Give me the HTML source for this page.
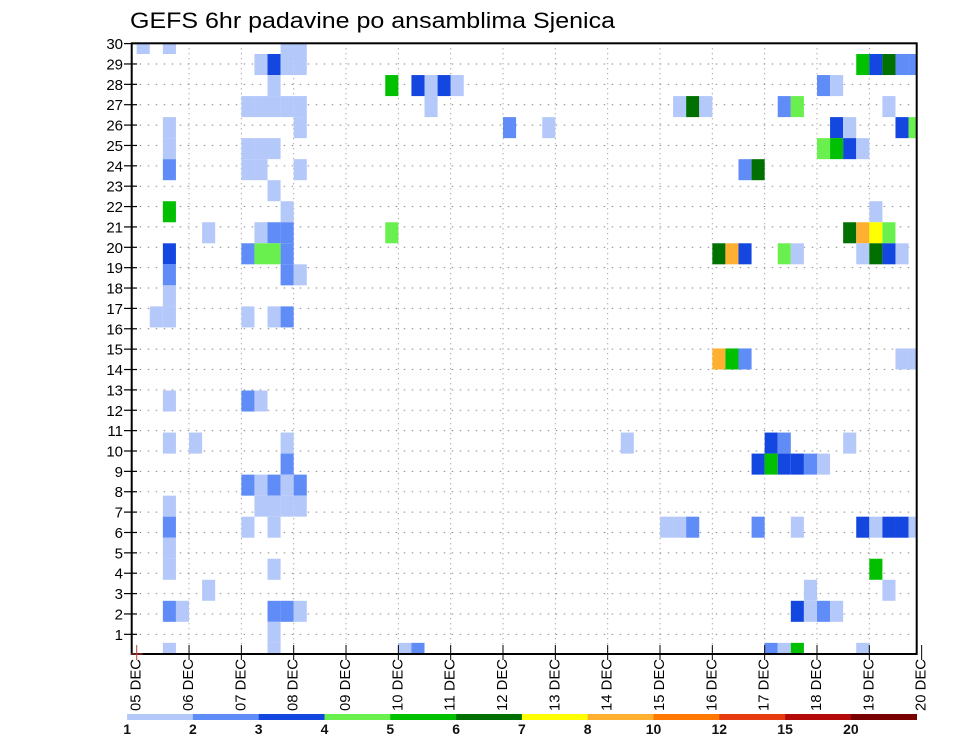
<!DOCTYPE html>
<html><head><meta charset="utf-8"><title>GEFS 6hr padavine po ansamblima Sjenica</title>
<style>
html,body{margin:0;padding:0;background:#fff;}
svg{display:block;font-family:"Liberation Sans",sans-serif;}
</style></head>
<body>
<svg id="chart" width="960" height="742" viewBox="0 0 960 742" xmlns="http://www.w3.org/2000/svg">
<rect x="0" y="0" width="960" height="742" fill="#fff"/>
<text x="130" y="28" font-size="22" textLength="485" lengthAdjust="spacingAndGlyphs" fill="#000">GEFS 6hr padavine po ansamblima Sjenica</text>
<g id="grid"></g>
<g id="cells"></g>
<g id="axes"></g>
<g id="colorbar"></g>
</svg>
<script>
// ---- data ----
const dayLabels = ["05 DEC","06 DEC","07 DEC","08 DEC","09 DEC","10 DEC","11 DEC","12 DEC","13 DEC","14 DEC","15 DEC","16 DEC","17 DEC","18 DEC","19 DEC","20 DEC"];
const memberTicks = [1,2,3,4,5,6,7,8,9,10,11,12,13,14,15,16,17,18,19,20,21,22,23,24,25,26,27,28,29,30];
const levelBounds = [1,2,3,4,5,6,7,8,10,12,15,20];
const levelColors = ["#b4c8fa","#5f8cf6","#1446e0","#6af04e","#00c000","#007000","#ffff00","#ffb030","#ff7800","#e63a10","#b40a0a","#780000"];
// cells: row counted from the top member (0..29), 6-hourly step index (0..59), precipitation (mm)
const cellRow = [
0,0,0,0, 1,1,1,1, 2, 3,3,3,3,3, 4,4, 5,5,5,5, 6,6,6,6, 7, 8,8, 9,9,9,9, 10,10,10,10,10, 11,11,11, 12, 13,13,13,13,13,
17,17,17, 19,19,19, 20, 21,21,21,21,21, 22,22,22,22,22, 23,23,23, 24, 25,25, 26, 27,27,27,27,27, 28, 29,29,
2,2,2,2,2, 3, 4,4, 9, 19, 23,23,23,
1,1,1,1,1, 2,2, 3,3,3,3,3,3, 4,4,4,4, 5,5,5,5, 6,6,
8, 9,9,9,9, 10,10,10,10,10,10,10,10,10, 15,15,15,15,15,
19,19,19, 20,20,20,20,20,20, 23,23,23,23,23,23,23,
25, 26,26, 27,27,27,27, 29,29,29,29, 29,29];
const cellStep = [
0,2,11,12, 9,10,11,12, 10, 8,9,10,11,12, 2,12, 2,8,9,10, 2,8,9,12, 10, 2,11, 5,9,10,11, 2,8,9,10,11, 2,11,12, 2, 1,2,8,10,11,
2,8,9, 2,4,11, 11, 8,9,10,11,12, 2,9,10,11,12, 2,8,10, 2, 2,10, 5, 2,3,10,11,12, 10, 2,10,
19,21,22,23,24, 22, 28,31, 19, 37, 40,41,42,
55,56,57,58,59, 52,53, 41,42,43,49,50,57, 53,54,58,59, 52,53,54,55, 46,47,
56, 54,55,56,57, 44,45,46,49,50,55,56,57,58, 44,45,46,58,59,
48,49,54, 47,48,49,50,51,52, 47,50,55,56,57,58,59,
56, 51,57, 50,51,52,53, 48,49,50,55, 20,21];
const cellPrecip = [
1.5,1.5,1.5,1.5, 1.5,3.5,1.5,1.5, 1.5, 1.5,1.5,1.5,1.5,1.5, 1.5,1.5, 1.5,1.5,1.5,1.5, 2.5,1.5,1.5,1.5, 1.5, 5.5,1.5, 1.5,1.5,2.5,2.5, 3.5,2.5,4.5,4.5,2.5, 2.5,2.5,1.5, 1.5, 1.5,1.5,1.5,1.5,2.5,
1.5,2.5,1.5, 1.5,1.5,1.5, 2.5, 2.5,1.5,2.5,1.5,2.5, 1.5,1.5,1.5,1.5,1.5, 2.5,1.5,1.5, 1.5, 1.5,1.5, 1.5, 2.5,1.5,2.5,2.5,1.5, 1.5, 1.5,1.5,
5.5,3.5,1.5,3.5,1.5, 1.5, 2.5,1.5, 4.5, 1.5, 1.5,1.5,2.5,
5.5,3.5,6.5,2.5,2.5, 2.5,1.5, 1.5,6.5,1.5,2.5,4.5,1.5, 3.5,1.5,3.5,4.5, 4.5,5.5,3.5,1.5, 2.5,6.5,
1.5, 6.5,9,7.5,4.5, 6.5,9,3.5,4.5,1.5,1.5,6.5,3.5,1.5, 9,5.5,2.5,1.5,1.5,
3.5,2.5,1.5, 3.5,5.5,3.5,3.5,2.5,1.5, 2.5,1.5,3.5,1.5,3.5,3.5,1.5,
5.5, 1.5,1.5, 3.5,1.5,2.5,1.5, 2.5,1.5,5.5,1.5, 1.5,2.5];

// ---- geometry ----
const X0 = 136.7, DAY = 52.33, STEP = DAY/4;
const PL = 131.7, PR = 916.7, PT = 43.3, PB = 654;
const ROW_TOP_C = 43.5, ROW_H = 21.03;
const NS = "http://www.w3.org/2000/svg";
function xDay(d){ return X0 + d*DAY; }
function xStep(s){ return X0 + s*STEP; }
function yRow(r){ return ROW_TOP_C + r*ROW_H; }
function yTick(k){ return 654.7 - 20.37*k; }
function levelIndex(v){ let i=-1; for(let j=0;j<levelBounds.length;j++){ if(v>=levelBounds[j]) i=j; } return i; }
function mk(tag, attrs, parent){ const e=document.createElementNS(NS,tag); for(const k in attrs) e.setAttribute(k,attrs[k]); parent.appendChild(e); return e; }

const grid = document.getElementById('grid');
const cells = document.getElementById('cells');
const axes = document.getElementById('axes');
const cbar = document.getElementById('colorbar');

memberTicks.forEach(k=>{
  const l = mk('line',{x1:PL,x2:PR,y1:yTick(k),y2:yTick(k),stroke:'#8a8a8a','stroke-width':1,'stroke-dasharray':'1.5,6.5'},grid);
  
  
});
dayLabels.forEach((d,i)=>{
  if(i===0||i===dayLabels.length-1) return;
  const l = mk('line',{x1:xDay(i),x2:xDay(i),y1:PT,y2:PB,stroke:'#8a8a8a','stroke-width':1,'stroke-dasharray':'1,4'},grid);
  
  
});

const clip = mk('clipPath',{id:'plotclip'},document.getElementById('chart'));
mk('rect',{x:PL,y:PT,width:PR-PL,height:PB-PT},clip);
cells.setAttribute('clip-path','url(#plotclip)');
for(let i=0;i<cellRow.length;i++){
  const li = levelIndex(cellPrecip[i]);
  if(li<0) continue;
  const r = mk('rect',{x:xStep(cellStep[i]).toFixed(2),y:(yRow(cellRow[i])-ROW_H/2).toFixed(2),width:STEP.toFixed(2),height:ROW_H.toFixed(2),fill:levelColors[li]},cells);
  
  
}

const frame = mk('rect',{x:PL,y:PT,width:PR-PL,height:PB-PT,fill:'none',stroke:'#000','stroke-width':2},axes);



memberTicks.forEach(k=>{
  const y = yTick(k);
  const t = mk('line',{x1:124,x2:137,y1:y,y2:y,stroke:'#000','stroke-width':1.2},axes);
  
  
  const tx = mk('text',{x:123,y:y+5.5,'font-size':15,'text-anchor':'end',fill:'#000'},axes);
  tx.textContent = String(k);
  
  
});

dayLabels.forEach((d,i)=>{
  const x = xDay(i);
  const t = mk('line',{x1:x,x2:x,y1:PB-9,y2:PB+6,stroke:i===0?'#c04040':'#000','stroke-width':1},axes);
  
  
  const tx = mk('text',{x:0,y:0,'font-size':14.5,'text-anchor':'end','dominant-baseline':'central',fill:'#000',textLength:52,lengthAdjust:'spacingAndGlyphs',transform:`translate(${x.toFixed(1)},659) rotate(-90)`},axes);
  tx.textContent = d;
  
  
});
const redTick = mk('line',{x1:X0-6,x2:X0+6,y1:PB,y2:PB,stroke:'#c04040','stroke-width':1},axes);



const CB0 = 127.1, CBW = 65.8, CBY = 714, CBH = 6;
levelColors.forEach((c,i)=>{
  const r = mk('rect',{x:(CB0+i*CBW).toFixed(2),y:CBY,width:(CBW+0.3).toFixed(2),height:CBH,fill:c},cbar);
  
  
});
levelBounds.forEach((b,i)=>{
  const t = mk('text',{x:(CB0+i*CBW).toFixed(2),y:734,'font-size':14,'font-weight':'bold','text-anchor':'middle',fill:'#111'},cbar);
  t.textContent = String(b);
  
  
});
</script>
</body></html>
